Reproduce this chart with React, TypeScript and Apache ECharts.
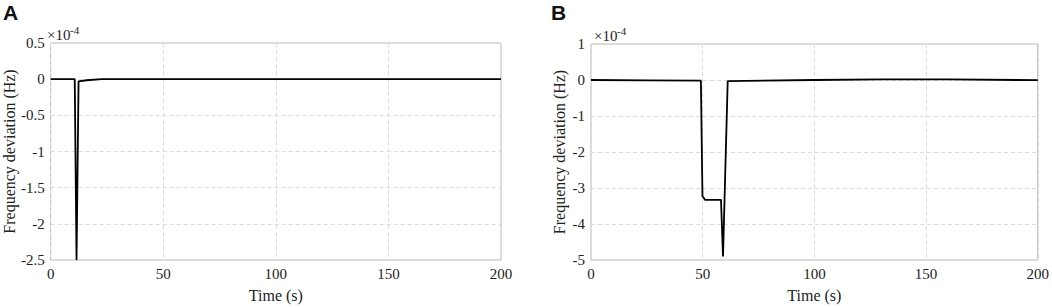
import React, { useEffect, useRef } from "react";
import * as echarts from "echarts";

const timeTicks = [0, 50, 100, 150, 200];
const seriesA: [number, number][] = [
  [0, 0], [10.7, 0], [11.5, -2.5], [12.4, -0.03], [16, -0.015], [22.7, 0], [200, 0],
];
const seriesB: [number, number][] = [
  [0, 0.0], [25, -0.01], [49.2, -0.02], [49.9, -3.22], [51.1, -3.33], [58.2, -3.33],
  [59.1, -4.9], [61.2, -0.03], [100, 0.0], [130, 0.015], [160, 0.015], [200, -0.005],
];

const SERIF = "'Liberation Serif', 'Times New Roman', serif";

export default function App() {
  const ref = useRef<HTMLDivElement>(null);
  useEffect(() => {
    if (!ref.current) return;
    const chart = echarts.init(ref.current, null, { renderer: "svg" });
    const tickText = { color: "#222", fontFamily: SERIF, fontSize: 15 };
    const splitLine = { show: true, lineStyle: { color: "#dcdcdc", type: [4, 3] as any, width: 1 } };
    const xAxisBase = (gridIndex: number) => ({
      type: "value" as const,
      gridIndex,
      min: timeTicks[0],
      max: timeTicks[timeTicks.length - 1],
      interval: 50,
      axisLine: { show: false },
      axisTick: { show: false },
      axisLabel: { ...tickText, margin: 6 },
      splitLine,
      name: "Time (s)",
      nameLocation: "middle" as const,
      nameGap: 27,
      nameTextStyle: { color: "#222", fontFamily: SERIF, fontSize: 16 },
    });
    const yName = {
      name: "Frequency deviation (Hz)",
      nameLocation: "middle" as const,
      nameTextStyle: { color: "#222", fontFamily: SERIF, fontSize: 16 },
    };
    chart.setOption({
      animation: false,
      backgroundColor: "#fff",
      textStyle: { fontFamily: SERIF },
      grid: [
        { left: 45, right: 551, top: 43, height: 224, show: true, borderColor: "#b8b8b8", borderWidth: 1 },
        { left: 591, right: 11, top: 44, height: 222, show: true, borderColor: "#b8b8b8", borderWidth: 1 },
      ],
      xAxis: [xAxisBase(0), xAxisBase(1)],
      yAxis: [
        {
          type: "value", gridIndex: 0, min: -2.5, max: 0.5, interval: 0.5,
          axisLine: { show: false }, axisTick: { show: false },
          axisLabel: { ...tickText, margin: 6 }, splitLine, ...yName, nameGap: 32,
        },
        {
          type: "value", gridIndex: 1, min: -5, max: 1, interval: 1,
          axisLine: { show: false }, axisTick: { show: false },
          axisLabel: { ...tickText, margin: 6 }, splitLine, ...yName, nameGap: 24,
        },
      ],
      series: [
        {
          type: "line", xAxisIndex: 0, yAxisIndex: 0, data: seriesA, showSymbol: false,
          lineStyle: { color: "#000", width: 1.8 }, clip: true,
        },
        {
          type: "line", xAxisIndex: 1, yAxisIndex: 1, data: seriesB, showSymbol: false,
          lineStyle: { color: "#000", width: 1.8 }, clip: true,
        },
      ],
      graphic: [
        { type: "text", left: 3, top: 2, style: { text: "A", font: "bold 21px 'Liberation Sans', Arial, sans-serif", fill: "#111" } },
        { type: "text", left: 551, top: 2, style: { text: "B", font: "bold 21px 'Liberation Sans', Arial, sans-serif", fill: "#111" } },
        { type: "text", left: 47, top: 27, style: { text: "×10", font: "15px 'Liberation Serif', serif", fill: "#222" } },
        { type: "text", left: 70, top: 24, style: { text: "-4", font: "11px 'Liberation Serif', serif", fill: "#222" } },
        { type: "text", left: 594, top: 28, style: { text: "×10", font: "15px 'Liberation Serif', serif", fill: "#222" } },
        { type: "text", left: 617, top: 25, style: { text: "-4", font: "11px 'Liberation Serif', serif", fill: "#222" } },
      ],
    });
    return () => chart.dispose();
  }, []);
  return (
    <div
      ref={ref}
      style={{ position: "fixed", left: 0, top: 0, width: 1052, height: 308, background: "#fff" }}
    />
  );
}
